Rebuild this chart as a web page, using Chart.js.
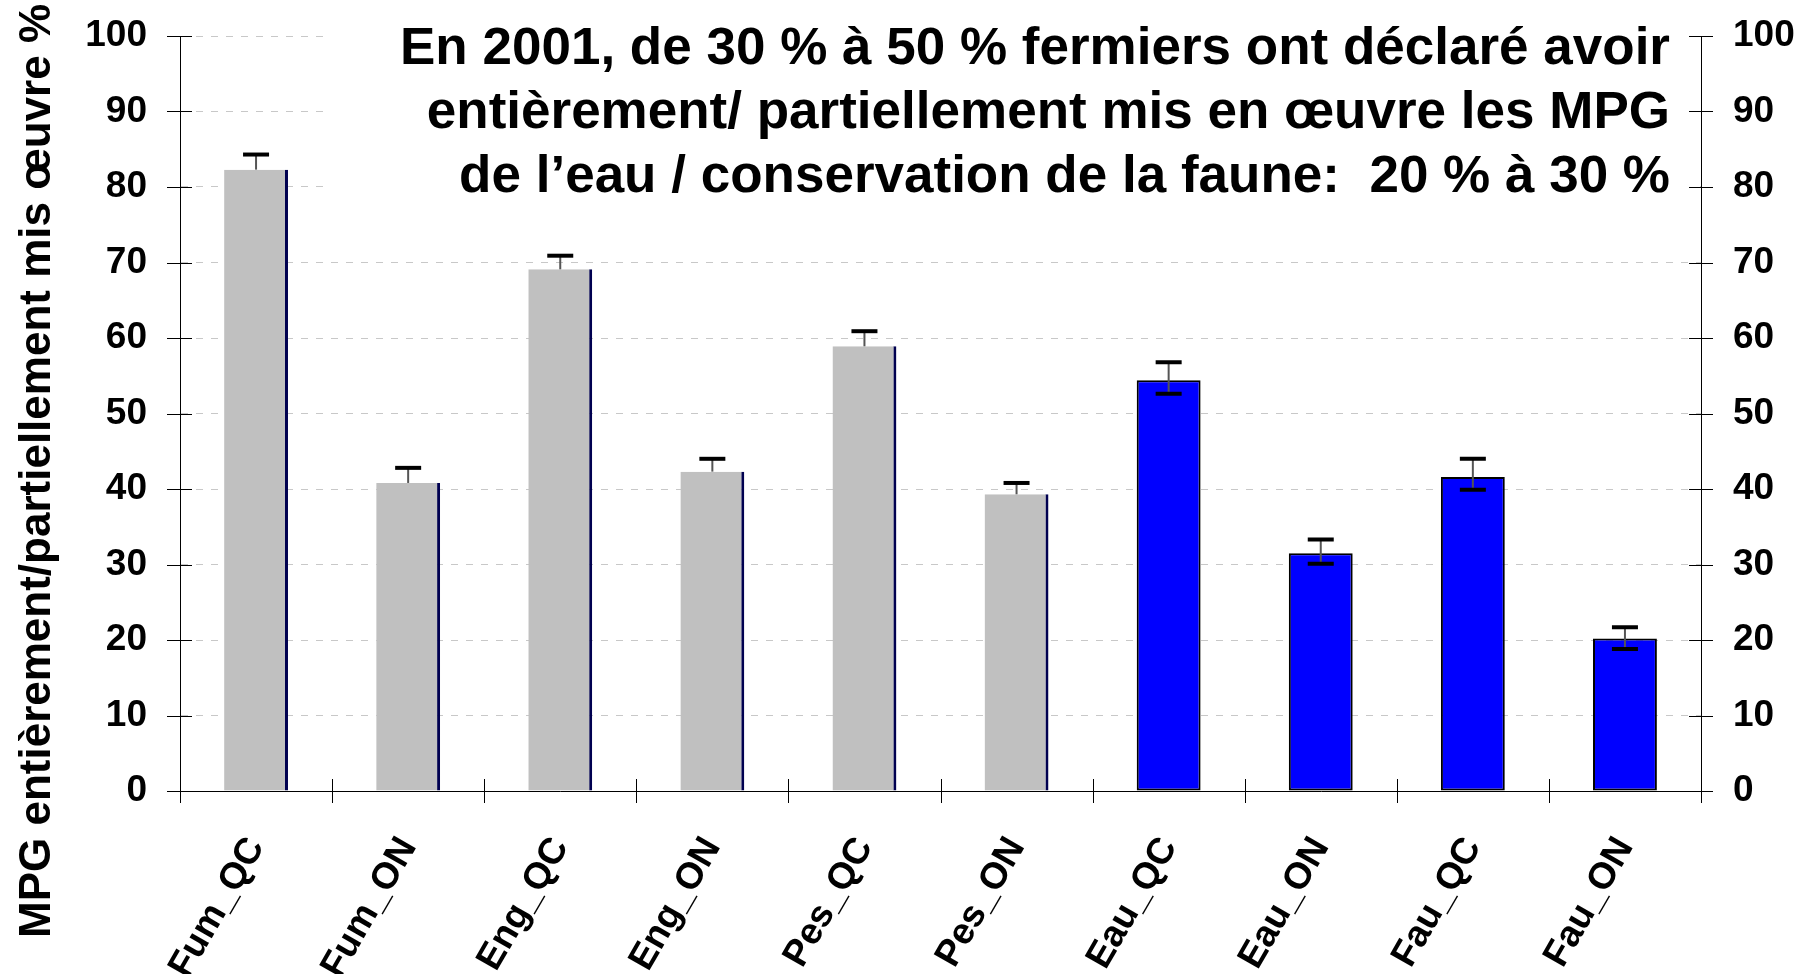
<!DOCTYPE html>
<html>
<head>
<meta charset="utf-8">
<script src="https://cdn.jsdelivr.net/npm/chart.js@4"></script>
<style>
  body { margin: 0; background: #fff; }
  #graphique { display: block; }
</style>
</head>
<body>
<canvas id="graphique" width="1806" height="974"></canvas>
<script>
// Données
const categories = ['Fum_QC', 'Fum_ON', 'Eng_QC', 'Eng_ON', 'Pes_QC', 'Pes_ON', 'Eau_QC', 'Eau_ON', 'Fau_QC', 'Fau_ON'];
const valeurs = [82.3, 40.8, 69.1, 42.3, 58.9, 39.3, 54.4, 31.5, 41.6, 20.2];
// barres d'erreur (plus / moins), null = pas de trait visible
const erreurPlus = [2.0, 2.0, 1.8, 1.7, 2.0, 1.5, 2.4, 1.8, 2.4, 1.5];
const erreurMoins = [null, null, null, null, null, null, 1.8, 1.4, 1.7, 1.4];
const graduations = [0, 10, 20, 30, 40, 50, 60, 70, 80, 90, 100];

const titreLignes = [
  'En 2001, de 30 % à 50 % fermiers ont déclaré avoir',
  'entièrement/ partiellement mis en œuvre les MPG',
  'de l\u2019eau / conservation de la faune:  20 % à 30 %'
];
const titreAxeY = 'MPG entièrement/partiellement mis œuvre %';

const police = '"Liberation Sans", Arial, sans-serif';
const gris = '#c0c0c0';
const bleu = '#0000ff';

// les MPG de l'eau et de la faune sont en bleu
const estBleu = categories.map(c => c.startsWith('Eau') || c.startsWith('Fau'));

// on fixe la taille des axes pour caler la zone du graphique
function fixerAxe(largeur) {
  return s => {
    s.width = largeur;
    s.paddingTop = 0;
    s.paddingBottom = 0;
  };
}

const decor = {
  id: 'decor',
  beforeDatasetsDraw(chart) {
    // fond blanc derrière le titre (cache la grille)
    const ctx = chart.ctx;
    ctx.save();
    ctx.fillStyle = '#fff';
    ctx.fillRect(327, 0, chart.chartArea.right - 328, 222);
    ctx.restore();
  },
  afterDatasetsDraw(chart) {
    const ctx = chart.ctx;
    const y = chart.scales.y;
    const meta = chart.getDatasetMeta(0);
    ctx.save();
    meta.data.forEach((barre, i) => {
      const x = barre.x;
      const haut = y.getPixelForValue(valeurs[i] + erreurPlus[i]);
      const bas = erreurMoins[i] == null ? barre.y : y.getPixelForValue(valeurs[i] - erreurMoins[i]);
      ctx.strokeStyle = '#555';
      ctx.lineWidth = 2;
      ctx.beginPath();
      ctx.moveTo(x, haut);
      ctx.lineTo(x, bas);
      ctx.stroke();
      ctx.strokeStyle = '#000';
      ctx.lineWidth = 4;
      ctx.beginPath();
      ctx.moveTo(x - 13, haut);
      ctx.lineTo(x + 13, haut);
      if (erreurMoins[i] != null) {
        ctx.moveTo(x - 13, bas);
        ctx.lineTo(x + 13, bas);
      }
      ctx.stroke();
    });
    ctx.restore();
  },
  afterDraw(chart) {
    const ctx = chart.ctx;
    const { left, right, bottom } = chart.chartArea;
    const y = chart.scales.y;
    const xs = chart.scales.x;
    ctx.save();
    // petits traits qui traversent les axes
    ctx.strokeStyle = '#000';
    ctx.lineWidth = 1;
    ctx.beginPath();
    graduations.forEach(v => {
      const py = Math.round(y.getPixelForValue(v)) + 0.5;
      ctx.moveTo(left - 13, py); ctx.lineTo(left + 12, py);
      ctx.moveTo(right - 12, py); ctx.lineTo(right + 12, py);
    });
    for (let i = 0; i <= categories.length; i++) {
      const px = Math.round(xs.getPixelForValue(i - 0.5)) + 0.5;
      ctx.moveTo(px, bottom - 12); ctx.lineTo(px, bottom + 12);
    }
    ctx.stroke();

    // titre de l'axe Y
    ctx.fillStyle = '#000';
    ctx.font = 'bold 44px ' + police;
    ctx.textAlign = 'center';
    ctx.textBaseline = 'alphabetic';
    ctx.save();
    ctx.translate(50, 471);
    ctx.rotate(-Math.PI / 2);
    ctx.fillText(titreAxeY, 0, 0);
    ctx.restore();

    // titre (texte un peu condensé)
    ctx.font = 'bold 51px ' + police;
    ctx.textAlign = 'right';
    const echelle = 1270 / ctx.measureText(titreLignes[0]).width;
    titreLignes.forEach((ligne, i) => {
      ctx.save();
      ctx.translate(1670, 64 + i * 64);
      ctx.scale(echelle, 1);
      ctx.fillText(ligne, 0, 0);
      ctx.restore();
    });
    ctx.restore();
  }
};

const contexte = document.getElementById('graphique').getContext('2d');

new Chart(contexte, {
  type: 'bar',
  data: {
    labels: categories,
    datasets: [{
      data: valeurs,
      backgroundColor: estBleu.map(b => b ? bleu : gris),
      borderColor: estBleu.map(b => b ? '#000' : '#000050'),
      borderWidth: estBleu.map(b => b ? 2 : { left: 0, top: 0, bottom: 0, right: 3 }),
      borderSkipped: false,
      categoryPercentage: 1,
      barPercentage: 0.42
    }]
  },
  options: {
    responsive: false,
    animation: false,
    devicePixelRatio: 1,
    layout: { padding: { top: 36, left: 0, right: 0, bottom: 0 } },
    plugins: {
      legend: { display: false },
      tooltip: { enabled: false }
    },
    scales: {
      x: {
        grid: { display: true, drawOnChartArea: false, tickLength: 12, tickColor: 'rgba(0,0,0,0)' },
        border: { display: true, color: '#000', width: 1 },
        ticks: {
          color: '#000',
          font: { family: police, size: 37, weight: 'bold' },
          minRotation: 60,
          maxRotation: 60,
          padding: 27
        },
        afterFit: s => { s.height = 183; }
      },
      y: {
        position: 'left',
        min: 0,
        max: 100,
        grid: {
          color: '#c8c8c8',
          lineWidth: 1,
          tickLength: 13,
          tickColor: 'rgba(0,0,0,0)'
        },
        border: { display: true, color: '#000', width: 1, dash: [7, 8] },
        ticks: {
          stepSize: 10,
          color: '#000',
          font: { family: police, size: 37, weight: 'bold' },
          padding: 20
        },
        afterFit: fixerAxe(180)
      },
      y2: {
        position: 'right',
        min: 0,
        max: 100,
        grid: { display: true, drawOnChartArea: false, tickLength: 13, tickColor: 'rgba(0,0,0,0)' },
        border: { display: true, color: '#000', width: 1 },
        ticks: {
          stepSize: 10,
          color: '#000',
          font: { family: police, size: 37, weight: 'bold' },
          padding: 19
        },
        afterFit: fixerAxe(105)
      }
    }
  },
  plugins: [decor]
});
</script>
</body>
</html>
